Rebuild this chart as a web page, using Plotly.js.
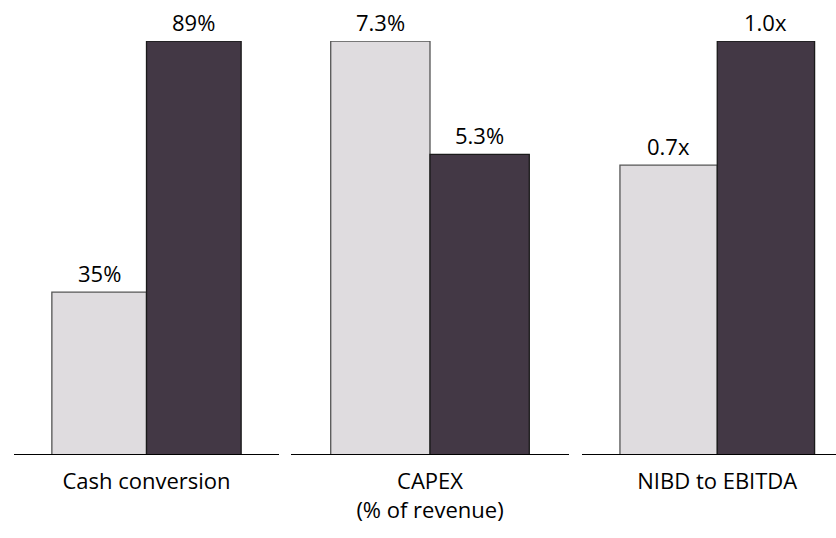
<!DOCTYPE html>
<html><head><meta charset="utf-8">
<script src="https://cdn.plot.ly/plotly-3.0.1.min.js"></script>
<style>html,body{margin:0;padding:0;background:#fff;}#chart{width:836px;height:538px;}</style>
</head><body><div id="chart"></div>
<script>
const categories = ["Cash conversion", "CAPEX<br>(% of revenue)", "NIBD to EBITDA"];
const seriesA = [35, 7.3, 0.7];
const seriesB = [89, 5.3, 1.0];
const labelsA = ["35%", "7.3%", "0.7x"];
const labelsB = ["89%", "5.3%", "1.0x"];

const colA = "#dfdcdf", colB = "#433845";
const domains = [[14/836, 279/836], [291/836, 569/836], [582/836, 1]];
const xranges = [[-0.9, 1.9], [-0.9, 1.9], [-0.89, 1.72]];
const fontFam = "Open Sans, sans-serif";
const fs = 22;

const traces = [];
const annotations = [];
const layout = {
  width: 836, height: 538,
  margin: {l: 0, r: 0, t: 41, b: 83},
  paper_bgcolor: "#fff", plot_bgcolor: "#fff",
  showlegend: false, bargap: 0,
  font: {family: fontFam, color: "#000", size: fs},
  annotations: annotations, shapes: []
};
for (let i = 0; i < 3; i++) {
  const xa = i === 0 ? "x" : "x" + (i + 1);
  const ya = i === 0 ? "y" : "y" + (i + 1);
  const maxV = Math.max(seriesA[i], seriesB[i]);
  traces.push({type: "bar", x: [0, 1], y: [seriesA[i], seriesB[i]], width: [1, 1],
    marker: {color: [colA, colB], line: {color: ["#555", "#1a1a1a"], width: 1.3}},
    xaxis: xa, yaxis: ya, hoverinfo: "skip"});
  const axKey = i === 0 ? "xaxis" : "xaxis" + (i + 1);
  const ayKey = i === 0 ? "yaxis" : "yaxis" + (i + 1);
  layout[axKey] = {domain: domains[i], range: xranges[i], anchor: ya,
    showgrid: false, zeroline: false, showline: false,
    tickvals: [0.5], ticktext: [categories[i]], ticks: "", ticklabelstandoff: 11,
    tickfont: {family: fontFam, size: fs, color: "#000"}};
  layout[ayKey] = {domain: [0, 1], range: [0, maxV], anchor: xa,
    showgrid: false, zeroline: false, showline: false, showticklabels: false, ticks: ""};
  layout.shapes.push({type: "line", xref: xa + " domain", yref: ya, x0: 0, x1: 1, y0: 0, y1: 0,
    line: {color: "#000", width: 2}});
  const labs = [labelsA[i], labelsB[i]];
  const vals = [seriesA[i], seriesB[i]];
  for (let j = 0; j < 2; j++) {
    annotations.push({x: j, y: vals[j], xref: xa, yref: ya, text: labs[j], showarrow: false,
      yanchor: "bottom", yshift: 2, font: {family: fontFam, size: fs, color: "#000"}});
  }
}
Plotly.newPlot("chart", traces, layout, {displayModeBar: false, staticPlot: true});
</script></body></html>
